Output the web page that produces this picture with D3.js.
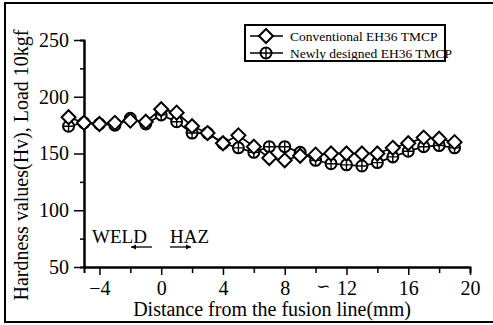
<!DOCTYPE html>
<html>
<head>
<meta charset="utf-8">
<script src="https://cdn.jsdelivr.net/npm/d3@7"></script>
<style>
  body { margin: 0; background: #fff; }
  svg text { font-family: "Liberation Serif", "DejaVu Serif", serif !important; fill: #000; }
</style>
</head>
<body>
<script>
// distance from the fusion line (mm)
var distance = [-6, -5, -4, -3, -2, -1, 0, 1, 2, 3, 4, 5, 6, 7, 8, 9, 10, 11, 12, 13, 14, 15, 16, 17, 18, 19];
// hardness, conventional EH36 TMCP
var conventional = [182, 177, 176, 177, 179, 178, 189, 186, 174, 168, 159, 166, 156, 146, 144, 148, 149, 150, 150, 150, 150, 155, 159, 164, 163, 160];
// hardness, newly designed EH36 TMCP
var newly = [174, 177, 176, 175, 181, 176, 184, 178, 168, 168, 159, 155, 151, 156, 156, 151, 144, 141, 140, 139, 142, 147, 152, 156, 157, 155];
var xTicks = [-4, 0, 4, 8, 12, 16, 20];
var xMinor = [-2, 2, 6, 10, 14, 18];
var yTicks = [50, 100, 150, 200, 250];
var yMinor = [75, 125, 175, 225];
var seriesNames = ["Conventional EH36 TMCP", "Newly designed EH36 TMCP"];

var W = 493, H = 325;
var serif = "'Liberation Serif', 'DejaVu Serif', serif";
var svg = d3.select("body").append("svg").attr("width", W).attr("height", H)
  .attr("font-family", serif);

// scales
var x = d3.scaleLinear().domain([-5, 20]).range([84, 470]);
var y = d3.scaleLinear().domain([50, 250]).range([267, 40]);

// frame round the figure
svg.append("path")
  .attr("d", "M493,3 H5 V322 H493")
  .attr("fill", "none").attr("stroke", "#000").attr("stroke-width", 2);

// axes
var gx = svg.append("g").attr("transform", "translate(0," + y(50) + ")");
gx.call(d3.axisBottom(x).tickValues(xTicks).tickSize(8).tickSizeOuter(0).tickFormat(function(d) { return d < 0 ? "\u2212" + (-d) : d; }));
gx.append("g").call(d3.axisBottom(x).tickValues(xMinor).tickSize(6).tickFormat(""));
gx.attr("font-family", serif);
gx.selectAll("path.domain").attr("stroke-width", 2);
gx.selectAll("line").attr("stroke", "#000").attr("stroke-width", 1.5);
gx.selectAll("text").attr("font-size", 20).attr("y", 14).attr("dy", "0.71em").attr("fill", "#000");

var gy = svg.append("g").attr("transform", "translate(" + x(-5) + ",0)");
gy.call(d3.axisLeft(y).tickValues(yTicks).tickSize(10).tickSizeOuter(0));
gy.append("g").call(d3.axisLeft(y).tickValues(yMinor).tickSize(4).tickFormat(""));
gy.attr("font-family", serif);
gy.selectAll("path.domain").attr("stroke-width", 2);
gy.selectAll("line").attr("stroke", "#000").attr("stroke-width", 1.5);
gy.selectAll("text").attr("font-size", 20).attr("x", -15).attr("fill", "#000");
svg.selectAll(".domain").attr("stroke", "#000");

// axis break mark
svg.append("text").attr("x", x(10.5)).attr("y", 292).attr("text-anchor", "middle")
  .attr("font-size", 17).text("\u223D");

// axis titles
svg.append("text").attr("x", 272).attr("y", 316).attr("text-anchor", "middle")
  .attr("font-size", 20).text("Distance from the fusion line(mm)");
svg.append("text").attr("transform", "translate(28,165) rotate(-90)").attr("text-anchor", "middle")
  .attr("font-size", 20).text("Hardness values(Hv), Load 10kgf");

// WELD / HAZ notes
svg.append("text").attr("x", 92).attr("y", 243).attr("font-size", 19).text("WELD");
svg.append("text").attr("x", 170).attr("y", 243).attr("font-size", 19).text("HAZ");
function arrow(x1, x2, yy) {
  var dir = x2 > x1 ? -1 : 1;
  svg.append("line").attr("x1", x1).attr("x2", x2).attr("y1", yy).attr("y2", yy)
    .attr("stroke", "#000").attr("stroke-width", 1.3);
  svg.append("path").attr("d", "M" + x2 + "," + yy + " l" + (dir * 5) + ",-2.5 l0,5 Z").attr("fill", "#000");
}
arrow(152, 131, 247);
arrow(170, 191, 247);

// markers
function diamond(g, cx, cy) {
  g.append("path").attr("d", "M" + cx + "," + (cy - 7) + " L" + (cx + 7) + "," + cy + " L" + cx + "," + (cy + 7) + " L" + (cx - 7) + "," + cy + " Z")
    .attr("fill", "#fff").attr("stroke", "#000").attr("stroke-width", 2);
}
function crossCircle(g, cx, cy) {
  g.append("circle").attr("cx", cx).attr("cy", cy).attr("r", 5.5)
    .attr("fill", "#fff").attr("stroke", "#000").attr("stroke-width", 2);
  g.append("path").attr("d", "M" + (cx - 5.5) + "," + cy + " H" + (cx + 5.5) + " M" + cx + "," + (cy - 5.5) + " V" + (cy + 5.5))
    .attr("stroke", "#000").attr("stroke-width", 1.4);
}

var line = d3.line().x(function(d) { return x(d[0]); }).y(function(d) { return y(d[1]); });
var series = [
  { values: newly, marker: crossCircle },
  { values: conventional, marker: diamond }
];
series.forEach(function(s) {
  var pts = distance.map(function(d, i) { return [d, s.values[i]]; });
  svg.append("path").datum(pts).attr("d", line)
    .attr("fill", "none").attr("stroke", "#000").attr("stroke-width", 1.7);
});
series.forEach(function(s) {
  var g = svg.append("g");
  distance.forEach(function(d, i) { s.marker(g, x(d), y(s.values[i])); });
});

// legend
var lg = svg.append("g");
lg.append("rect").attr("x", 245).attr("y", 25).attr("width", 200).attr("height", 36)
  .attr("fill", "#fff").attr("stroke", "#000").attr("stroke-width", 2);
[diamond, crossCircle].forEach(function(m, i) {
  var ly = 36 + i * 17;
  lg.append("line").attr("x1", 250).attr("x2", 283).attr("y1", ly).attr("y2", ly)
    .attr("stroke", "#000").attr("stroke-width", 1.5);
  m(lg, 266, ly);
  lg.append("text").attr("x", 290).attr("y", ly + 4.5).attr("font-size", 13.5).text(seriesNames[i]);
});
</script>
</body>
</html>
